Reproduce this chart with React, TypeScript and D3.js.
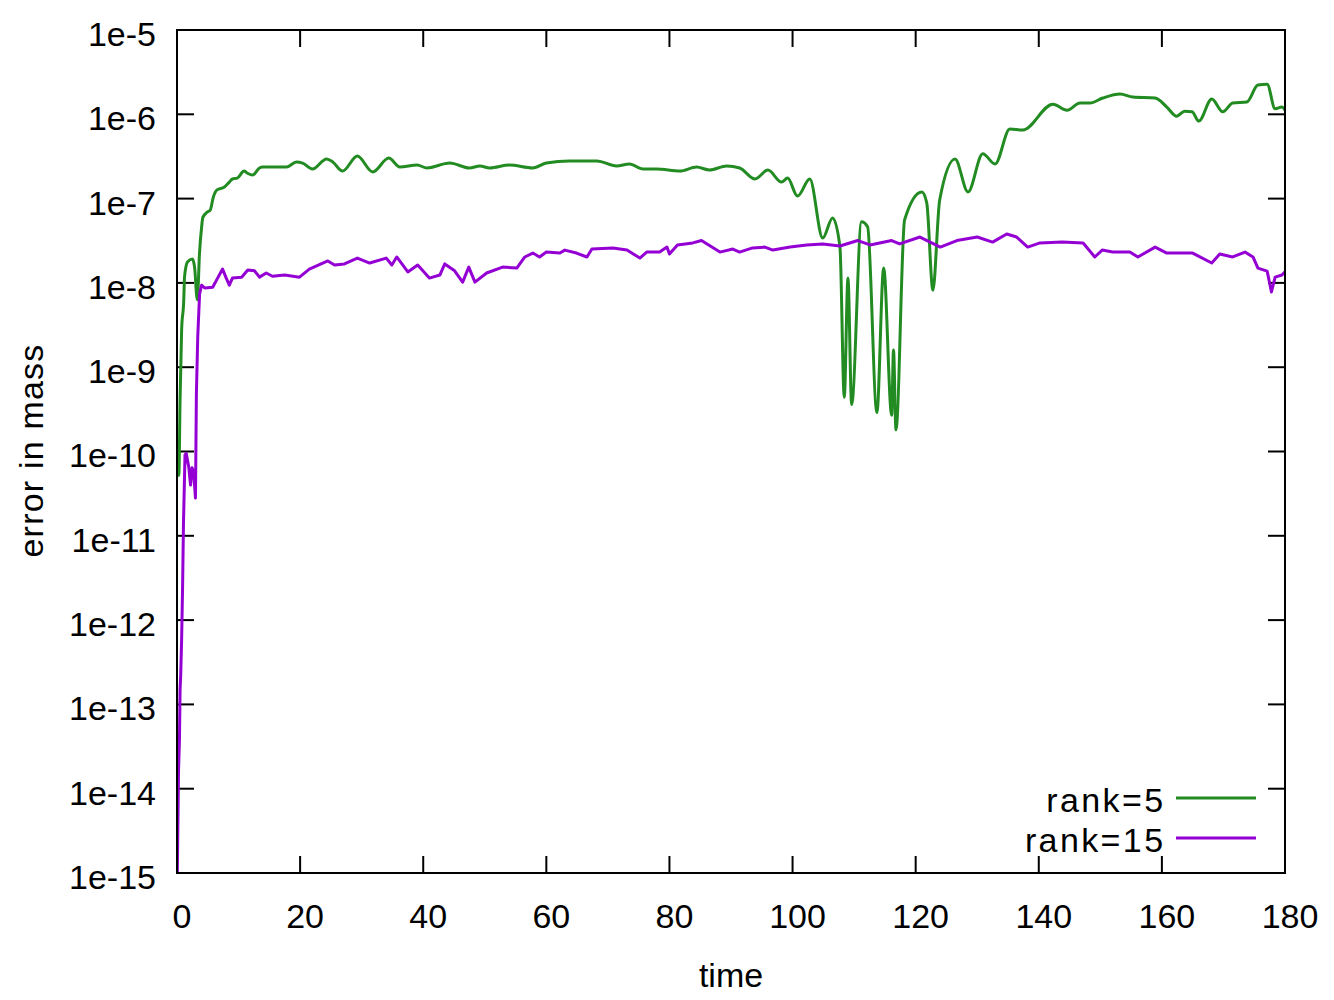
import React, { useRef, useEffect } from "react";
import * as d3 from "d3";

// rank=5 series (time, error in mass)
const timeRank5 = [
  0, 0.3, 0.5, 0.75, 1.1, 1.22, 1.7, 2.5, 2.85, 3.3, 3.66, 4.0, 4.2, 4.9, 5.4,
  5.9, 6.5, 7.7, 8.5, 9.0, 9.8, 10.9, 11.4, 12.3, 13.4, 13.9, 15.5, 17.8, 19.4,
  20.4, 22.0, 24.3, 25.3, 26.9, 29.3, 31.8, 34.4, 36.2, 39.0, 40.6, 44.3, 47.5,
  49.2, 50.8, 54.0, 57.8, 60.0, 63.8, 68.2, 71.4, 73.5, 75.7, 77.9, 81.7, 84.4,
  86.5, 89.3, 91.4, 93.9, 96.0, 98.2, 99.2, 100.8, 102.8, 104.9, 106.5, 107.7,
  108.4, 109.0, 109.6, 111.2, 112.2, 113.7, 114.8, 116.1, 116.4, 116.8, 118.2,
  121.0, 121.8, 122.8, 123.9, 126.4, 128.5, 130.9, 132.9, 135.3, 137.4, 142.3,
  144.6, 146.7, 148.3, 150.4, 153.2, 155.3, 158.9, 160.8, 162.4, 163.7, 164.9,
  166.0, 168.1, 169.9, 171.5, 173.8, 175.6, 177.1, 178.4, 179.5, 180.0,
];
const errRank5 = [
  1.0e-10, 5.2e-11, 4.1e-10, 2.75e-9, 6.3e-9, 1.17e-8, 1.77e-8, 1.92e-8, 1.55e-8,
  6.3e-9, 2.27e-8, 4.6e-8, 6.0e-8, 6.9e-8, 7.3e-8, 1.04e-7, 1.27e-7, 1.37e-7,
  1.57e-7, 1.71e-7, 1.75e-7, 2.12e-7, 2.01e-7, 1.9e-7, 2.31e-7, 2.37e-7, 2.37e-7,
  2.37e-7, 2.72e-7, 2.64e-7, 2.24e-7, 2.95e-7, 2.72e-7, 2.12e-7, 3.2e-7, 2.07e-7,
  3.03e-7, 2.37e-7, 2.5e-7, 2.31e-7, 2.64e-7, 2.31e-7, 2.44e-7, 2.31e-7, 2.5e-7,
  2.31e-7, 2.64e-7, 2.8e-7, 2.8e-7, 2.44e-7, 2.57e-7, 2.24e-7, 2.24e-7, 2.12e-7,
  2.37e-7, 2.18e-7, 2.44e-7, 2.31e-7, 1.71e-7, 2.18e-7, 1.57e-7, 1.75e-7, 1.07e-7,
  1.71e-7, 3.4e-8, 5.9e-8, 2.67e-8, 4.4e-10, 1.14e-8, 3.6e-10, 5.3e-8, 4.6e-8,
  2.9e-10, 1.5e-8, 2.7e-10, 1.6e-9, 1.8e-10, 5.6e-8, 1.2e-7, 8.9e-8, 8.2e-9,
  9.6e-8, 2.95e-7, 1.2e-7, 3.4e-7, 2.57e-7, 6.7e-7, 6.5e-7, 1.32e-6, 1.12e-6,
  1.36e-6, 1.36e-6, 1.56e-6, 1.74e-6, 1.6e-6, 1.56e-6, 1.22e-6, 9.5e-7, 1.09e-6,
  1.07e-6, 8.3e-7, 1.52e-6, 1.07e-6, 1.36e-6, 1.4e-6, 2.22e-6, 2.27e-6, 1.16e-6,
  1.22e-6, 1.12e-6,
];

// rank=15 series
const timeRank15 = [
  0, 0.25, 0.4, 0.5, 0.6, 0.75, 0.9, 1.05, 1.3, 1.5, 1.93, 2.2, 2.45, 2.7, 3.0,
  3.15, 3.37, 3.67, 4.0, 4.5, 5.8, 6.6, 7.4, 8.0, 8.5, 9.0, 10.5, 11.5, 12.6,
  13.4, 14.5, 15.5, 17.5, 19.9, 21.5, 24.5, 25.6, 27.2, 29.3, 31.3, 34.0, 34.9,
  35.7, 37.5, 39.1, 41.0, 42.7, 43.5, 45.1, 46.4, 47.4, 48.4, 50.3, 52.9, 55.2,
  56.5, 57.8, 58.9, 60.0, 62.2, 63.0, 64.9, 66.6, 67.4, 70.8, 73.1, 75.2, 76.3,
  78.4, 79.6, 80.0, 81.3, 83.8, 85.2, 86.9, 88.2, 90.3, 91.4, 93.5, 95.5, 96.8,
  99.6, 102.3, 104.9, 107.7, 110.6, 112.6, 116.1, 117.4, 120.7, 124.0, 126.7,
  130.0, 132.5, 134.8, 136.4, 138.2, 140.2, 143.8, 147.2, 149.1, 150.3, 152.0,
  154.8, 156.1, 158.9, 160.8, 162.9, 165.0, 168.1, 169.4, 171.5, 173.5, 174.8,
  175.6, 177.1, 177.8, 178.4, 179.5, 180.0,
];
const errRank15 = [
  5e-16, 1.67e-14, 3.8e-14, 1.5e-13, 2.2e-13, 5.8e-13, 2.3e-12, 1.38e-11, 9.1e-11,
  9.5e-11, 6.4e-11, 4.0e-11, 6.4e-11, 5.7e-11, 2.8e-11, 4.8e-10, 2.3e-9, 7.4e-9,
  9.4e-9, 8.7e-9, 8.9e-9, 1.14e-8, 1.46e-8, 1.14e-8, 9.4e-9, 1.14e-8, 1.17e-8,
  1.42e-8, 1.39e-8, 1.17e-8, 1.31e-8, 1.2e-8, 1.24e-8, 1.17e-8, 1.46e-8, 1.82e-8,
  1.63e-8, 1.68e-8, 1.97e-8, 1.72e-8, 1.97e-8, 1.63e-8, 2.03e-8, 1.35e-8, 1.63e-8,
  1.14e-8, 1.24e-8, 1.68e-8, 1.39e-8, 1.02e-8, 1.54e-8, 1.02e-8, 1.31e-8, 1.54e-8,
  1.5e-8, 2.03e-8, 2.26e-8, 2.03e-8, 2.32e-8, 2.26e-8, 2.45e-8, 2.26e-8, 2.03e-8,
  2.52e-8, 2.6e-8, 2.45e-8, 1.97e-8, 2.32e-8, 2.32e-8, 2.66e-8, 2.2e-8, 2.82e-8,
  2.98e-8, 3.18e-8, 2.66e-8, 2.32e-8, 2.52e-8, 2.32e-8, 2.6e-8, 2.66e-8, 2.45e-8,
  2.66e-8, 2.82e-8, 2.9e-8, 2.74e-8, 3.18e-8, 2.82e-8, 3.18e-8, 2.9e-8, 3.5e-8,
  2.66e-8, 3.18e-8, 3.5e-8, 3.05e-8, 3.8e-8, 3.5e-8, 2.66e-8, 2.98e-8, 3.05e-8,
  2.98e-8, 2.03e-8, 2.45e-8, 2.32e-8, 2.32e-8, 2.03e-8, 2.66e-8, 2.26e-8, 2.26e-8,
  2.26e-8, 1.72e-8, 2.2e-8, 2.03e-8, 2.32e-8, 2.03e-8, 1.5e-8, 1.38e-8, 7.8e-9,
  1.17e-8, 1.24e-8, 1.35e-8,
];

const xTicks = [0, 20, 40, 60, 80, 100, 120, 140, 160, 180];
const yTicks = [1e-5, 1e-6, 1e-7, 1e-8, 1e-9, 1e-10, 1e-11, 1e-12, 1e-13, 1e-14, 1e-15];
const yTickLabels = ["1e-5", "1e-6", "1e-7", "1e-8", "1e-9", "1e-10", "1e-11", "1e-12", "1e-13", "1e-14", "1e-15"];

const seriesNames = ["rank=5", "rank=15"];
const seriesColors = ["#228b22", "#9400d3"];

const W = 1334;
const H = 1000;
const FONT = "'Liberation Sans', Arial, Helvetica, sans-serif";

const App: React.FC = () => {
  const ref = useRef<SVGSVGElement>(null);

  useEffect(() => {
    if (!ref.current) return;
    const svg = d3.select(ref.current);
    svg.selectAll("*").remove();

    const margin = { top: 30, right: 49, bottom: 127, left: 177 };
    const width = W - margin.left - margin.right;
    const height = H - margin.top - margin.bottom;
    const tickLen = 17;

    const x = d3.scaleLinear().domain([0, 180]).range([0, width]);
    const y = d3.scaleLog().domain([1e-15, 1e-5]).range([height, 0]);

    const g = svg
      .append("g")
      .attr("transform", `translate(${margin.left},${margin.top})`);

    svg
      .append("defs")
      .append("clipPath")
      .attr("id", "plot-clip")
      .append("rect")
      .attr("width", width)
      .attr("height", height);

    // tick marks on all four sides, pointing inward
    const ticks = g.append("g").attr("stroke", "#000").attr("stroke-width", 2);
    xTicks.forEach((t) => {
      ticks.append("line").attr("x1", x(t)).attr("x2", x(t)).attr("y1", height).attr("y2", height - tickLen);
      ticks.append("line").attr("x1", x(t)).attr("x2", x(t)).attr("y1", 0).attr("y2", tickLen);
    });
    yTicks.forEach((v) => {
      ticks.append("line").attr("x1", 0).attr("x2", tickLen).attr("y1", y(v)).attr("y2", y(v));
      ticks.append("line").attr("x1", width).attr("x2", width - tickLen).attr("y1", y(v)).attr("y2", y(v));
    });

    // tick labels
    g.append("g")
      .selectAll("text")
      .data(xTicks)
      .join("text")
      .attr("x", (d) => x(d) + 5)
      .attr("y", height + 55)
      .attr("text-anchor", "middle")
      .attr("font-family", FONT)
      .attr("font-size", 34)
      .text((d) => String(d));

    g.append("g")
      .selectAll("text")
      .data(yTicks)
      .join("text")
      .attr("x", -21)
      .attr("y", (d) => y(d))
      .attr("dy", "0.47em")
      .attr("text-anchor", "end")
      .attr("font-family", FONT)
      .attr("font-size", 34)
      .text((d, i) => yTickLabels[i]);

    // axis titles
    svg
      .append("text")
      .attr("x", margin.left + width / 2)
      .attr("y", 987)
      .attr("text-anchor", "middle")
      .attr("font-family", FONT)
      .attr("font-size", 34)
      .text("time");
    svg
      .append("text")
      .attr("transform", `translate(43,${margin.top + height / 2 - 1}) rotate(-90)`)
      .attr("text-anchor", "middle")
      .attr("font-family", FONT)
      .attr("font-size", 34)
      .attr("letter-spacing", 1.2)
      .text("error in mass");

    // curves
    const plot = g.append("g").attr("clip-path", "url(#plot-clip)");

    const smooth = d3
      .line<number>()
      .x((d, i) => x(timeRank5[i]))
      .y((d) => y(d))
      .curve(d3.curveMonotoneX);
    const jagged = d3
      .line<number>()
      .x((d, i) => x(timeRank15[i]))
      .y((d) => y(d));

    plot
      .append("path")
      .datum(errRank5)
      .attr("fill", "none")
      .attr("stroke", seriesColors[0])
      .attr("stroke-width", 3)
      .attr("stroke-linejoin", "round")
      .attr("d", smooth);
    plot
      .append("path")
      .datum(errRank15)
      .attr("fill", "none")
      .attr("stroke", seriesColors[1])
      .attr("stroke-width", 3)
      .attr("stroke-linejoin", "round")
      .attr("d", jagged);

    // frame
    g.append("rect")
      .attr("width", width)
      .attr("height", height)
      .attr("fill", "none")
      .attr("stroke", "#000")
      .attr("stroke-width", 2);

    // legend
    const legend = g.append("g");
    seriesNames.forEach((name, i) => {
      const ly = 768 + i * 40;
      legend
        .append("text")
        .attr("x", 988.5)
        .attr("y", ly + 14)
        .attr("text-anchor", "end")
        .attr("font-family", FONT)
        .attr("font-size", 34)
        .attr("letter-spacing", 2.4)
        .text(name);
      legend
        .append("line")
        .attr("x1", 999)
        .attr("x2", 1079)
        .attr("y1", ly)
        .attr("y2", ly)
        .attr("stroke", seriesColors[i])
        .attr("stroke-width", 3);
    });
  }, []);

  return (
    <svg
      ref={ref}
      width={W}
      height={H}
      style={{ position: "absolute", left: 0, top: 0, background: "#fff" }}
    ></svg>
  );
};

export default App;
